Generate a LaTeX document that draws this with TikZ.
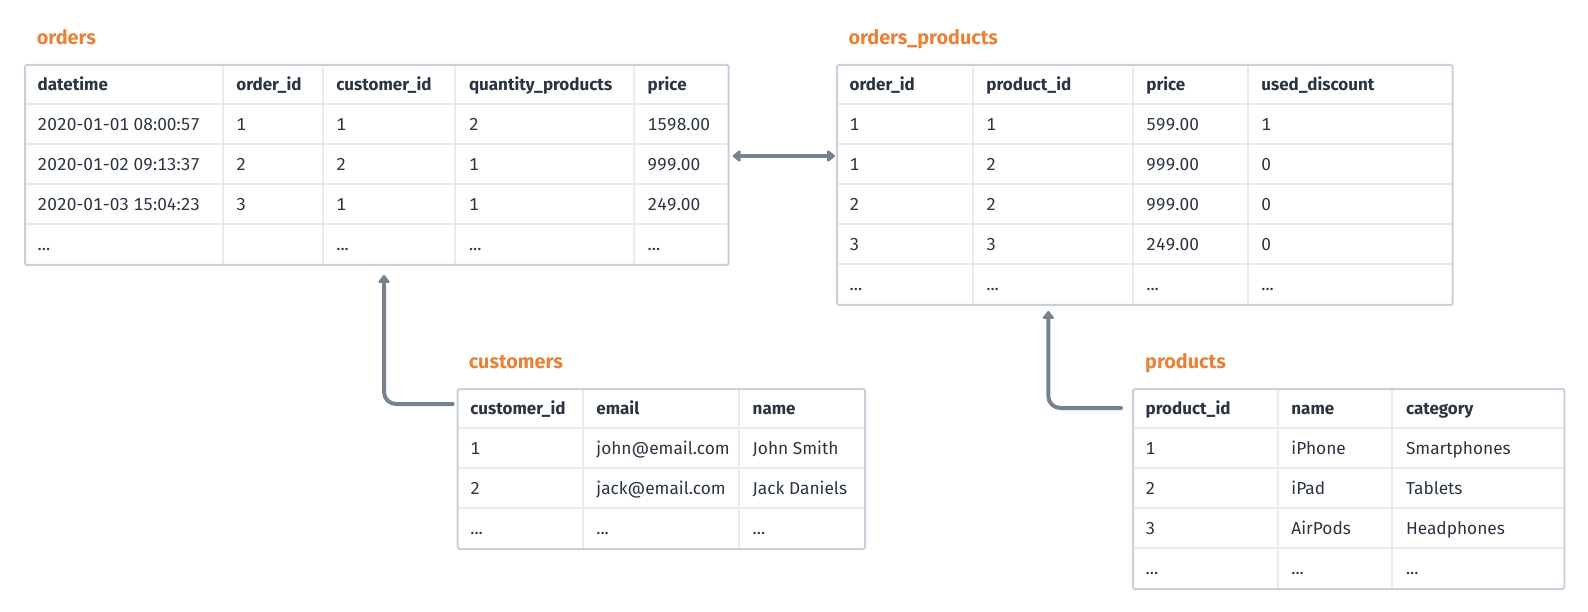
\documentclass[tikz,border=0pt]{standalone}
\usepackage{fontspec}
\setmainfont{Fira Sans}[Numbers={Lining,Monospaced}]
\usetikzlibrary{arrows.meta}
\definecolor{ttlc}{HTML}{E98139}
\definecolor{txtc}{HTML}{2A3541}
\definecolor{outerc}{HTML}{C8D1DB}
\definecolor{innerc}{HTML}{E6EBF0}
\definecolor{arrc}{HTML}{76838F}
\newcommand{\ellip}{...}
\tikzset{
  tbox/.style={draw=outerc, line width=2pt, rounded corners=2pt},
  gridl/.style={draw=innerc, line width=2pt},
  hdrcell/.style={anchor=base west, inner sep=0pt, text=txtc, font=\bfseries\fontsize{17}{20}\selectfont},
  bodycell/.style={anchor=base west, inner sep=0pt, text=txtc, font=\fontsize{17.3}{20}\selectfont},
  ttlstyle/.style={anchor=base west, inner sep=0pt, text=ttlc, font=\bfseries\fontsize{19.8}{22}\selectfont},
  conn/.style={draw=arrc, line width=4pt, line cap=round, -{Triangle[width=13pt,length=8.5pt,round]}},
  conn2/.style={draw=arrc, line width=4pt, {Triangle[width=13pt,length=8.5pt,round]}-{Triangle[width=13pt,length=8.5pt,round]}},
}
% #1 table name, #2 row tag, #3 style, #4 baseline y, #5 list x/text
\newcommand{\mkrow}[5]{%
  \foreach \cx/\ctext [count=\cc] in {#5} {\node[#3] (#1-#2-\cc) at (\cx,#4) {\ctext};}%
}
% #1 name, #2 left, #3 top, #4 right, #5 bottom, #6 inner x list, #7 inner y list
\newcommand{\mkgrid}[7]{%
  \foreach \gx in {#6} {\draw[gridl] (\gx,#3) -- (\gx,#5);}%
  \foreach \gy in {#7} {\draw[gridl] (#2,\gy) -- (#4,\gy);}%
  \node[tbox, inner sep=0pt, anchor=north west, minimum width={#4pt-#2pt}, minimum height={#5pt-#3pt}] (#1) at (#2,#3) {};%
}
\begin{document}
\begin{tikzpicture}[x=1pt,y=-1pt]
\useasboundingbox (0,0) rectangle (1588,612);

% ---------------- orders
\node[ttlstyle] (t-orders) at (36.7,45) {orders};
\mkgrid{orders}{24}{64}{727.7}{264}{222.7,322.7,455.3,634}{104,144,184,224}
\mkrow{orders}{h}{hdrcell}{90.7}{37.5/datetime, 236.2/order\_id, 336.2/customer\_id, 468.8/quantity\_products, 647.5/price}
\mkrow{orders}{a}{bodycell}{130.7}{37.5/2020-01-01 08:00:57, 236.2/1, 336.2/1, 468.8/2, 647.5/1598.00}
\mkrow{orders}{b}{bodycell}{170.7}{37.5/2020-01-02 09:13:37, 236.2/2, 336.2/2, 468.8/1, 647.5/999.00}
\mkrow{orders}{c}{bodycell}{210.7}{37.5/2020-01-03 15:04:23, 236.2/3, 336.2/1, 468.8/1, 647.5/249.00}
\mkrow{orders}{d}{bodycell}{250.7}{37.5/\ellip, 336.2/\ellip, 468.8/\ellip, 647.5/\ellip}

% ---------------- orders_products
\node[ttlstyle] (t-op) at (848.3,45) {orders\_products};
\mkgrid{op}{836}{64}{1451.7}{304}{972.7,1132.7,1247.7}{104,144,184,224,264}
\mkrow{op}{h}{hdrcell}{90.7}{849.5/order\_id, 986.2/product\_id, 1146.2/price, 1261.2/used\_discount}
\mkrow{op}{a}{bodycell}{130.7}{849.5/1, 986.2/1, 1146.2/599.00, 1261.2/1}
\mkrow{op}{b}{bodycell}{170.7}{849.5/1, 986.2/2, 1146.2/999.00, 1261.2/0}
\mkrow{op}{c}{bodycell}{210.7}{849.5/2, 986.2/2, 1146.2/999.00, 1261.2/0}
\mkrow{op}{d}{bodycell}{250.7}{849.5/3, 986.2/3, 1146.2/249.00, 1261.2/0}
\mkrow{op}{e}{bodycell}{290.7}{849.5/\ellip, 986.2/\ellip, 1146.2/\ellip, 1261.2/\ellip}

% ---------------- customers
\node[ttlstyle] (t-customers) at (468.7,369) {customers};
\mkgrid{customers}{456.7}{388}{864}{548}{582.7,739}{428,468,508}
\mkrow{customers}{h}{hdrcell}{414.7}{470.2/customer\_id, 596.2/email, 752.5/name}
\mkrow{customers}{a}{bodycell}{454.7}{470.2/1, 596.2/john@email.com, 752.5/John Smith}
\mkrow{customers}{b}{bodycell}{494.7}{470.2/2, 596.2/jack@email.com, 752.5/Jack Daniels}
\mkrow{customers}{c}{bodycell}{534.7}{470.2/\ellip, 596.2/\ellip, 752.5/\ellip}

% ---------------- products
\node[ttlstyle] (t-products) at (1145,369) {products};
\mkgrid{products}{1132}{388}{1563.3}{588}{1277.7,1392.3}{428,468,508,548}
\mkrow{products}{h}{hdrcell}{414.7}{1145.5/product\_id, 1291.2/name, 1405.8/category}
\mkrow{products}{a}{bodycell}{454.7}{1145.5/1, 1291.2/iPhone, 1405.8/Smartphones}
\mkrow{products}{b}{bodycell}{494.7}{1145.5/2, 1291.2/iPad, 1405.8/Tablets}
\mkrow{products}{c}{bodycell}{534.7}{1145.5/3, 1291.2/AirPods, 1405.8/Headphones}
\mkrow{products}{d}{bodycell}{574.7}{1145.5/\ellip, 1291.2/\ellip, 1405.8/\ellip}

% ---------------- connectors
\coordinate (ordersTip) at ([xshift=3pt,yshift=-92pt]orders.north east);
\coordinate (opTip) at ([xshift=-1pt,yshift=-92pt]op.north west);
\draw[conn2] (ordersTip) -- (opTip);

\coordinate (custStart) at ([xshift=-4pt,yshift=-16pt]customers.north west);
\coordinate (ordersUp) at (384,275);
\draw[conn, rounded corners=12pt] (custStart) -| (ordersUp);

\coordinate (prodStart) at ([xshift=-11pt,yshift=-20pt]products.north west);
\coordinate (opUp) at (1048.3,311);
\draw[conn, rounded corners=12pt] (prodStart) -| (opUp);
\end{tikzpicture}
\end{document}
